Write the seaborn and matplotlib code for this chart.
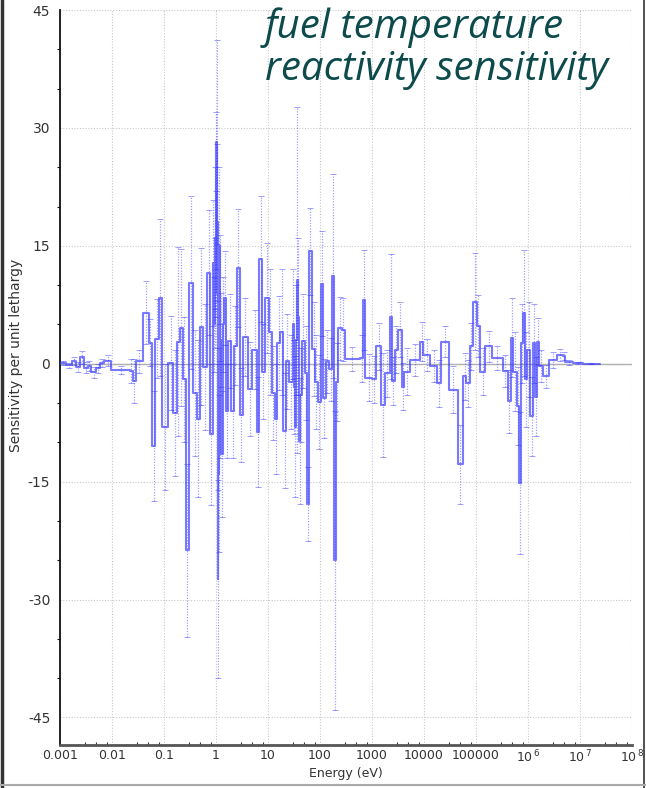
import numpy as np
import pandas as pd
import matplotlib
matplotlib.use("Agg")
import matplotlib.pyplot as plt
from matplotlib.ticker import FixedLocator, FixedFormatter, NullFormatter
import seaborn as sns

# ---------------- data ----------------
edges_ev = [0.001, 0.001304, 0.001702, 0.002031, 0.002424, 0.002894, 0.003455, 0.003946,
            0.004924, 0.005878, 0.007017, 0.009568, 0.02219, 0.02534, 0.02894, 0.03946,
            0.05145, 0.05878, 0.06714, 0.08014, 0.09151, 0.1194, 0.1490, 0.1778, 0.2031,
            0.2319, 0.2649, 0.3025, 0.3612, 0.4311, 0.4924, 0.5623, 0.6714, 0.7666, 0.8755,
            0.91, 0.94, 0.9568, 0.98, 1.0, 1.022, 1.05, 1.07, 1.093, 1.115, 1.142, 1.17,
            1.194, 1.22, 1.248, 1.363, 1.425, 1.557, 1.702, 1.943,
            2.219, 2.534, 2.894, 3.305, 4.125, 4.924, 6.144, 6.714, 7.666, 8.755, 10.45,
            11.94, 13.63, 14.90, 17.02, 19.43, 22.19, 25.34, 30.25, 31.5, 33.05, 34.5,
            36.12, 37.5, 39.46, 42.0,
            45.06, 51.45, 56.23, 61.44, 70.17, 80.14, 91.51, 104.5, 114.2, 130.4, 148.9,
            170.2, 185.8, 198.7, 221.9, 264.9, 302.5, 587.8, 671.4, 733.5, 1000, 1194,
            1490, 1778, 2219, 2424, 2769, 3162, 3775, 4125, 5378, 8377, 9568, 13050, 17780,
            21230, 30250, 45060, 56230, 64230, 76660, 87550, 104500, 119400, 149000, 203100,
            330500, 412500, 471000, 514500, 614400, 671400, 733500, 801400, 875500, 956800,
            1.093e6, 1.248e6, 1.363e6, 1.490e6, 1.628e6, 1.943e6, 2.534e6, 3.612e6, 4.710e6,
            5.145e6, 7.335e6, 1.142e7, 2.424e7]

sensitivity = [0.1, -0.2, 0.3, -0.4, 0.8, -0.5, -0.3, -1.1, -0.6, 0.1, 0.4, -0.8, -0.9, -2.2,
               0.3, 6.5, 2.7, -10.5, 3.2, 8.4, -8.0, 0.1, -6.3, 2.8, 4.6, -2.0, -23.7, 10.3,
               -3.7, -7.0, 4.7, -0.4, 11.6, -9.0,
               12.8, 5.0, 16.0, 9.0, 22.0, 14.0, 28.2, 18.0, -8.0, -27.4, -14.0, 15.0, -5.0,
               8.4, 3.0, -11.5,
               5.0, 8.4, -6.0, 2.9, -6.0, 2.3, 12.2, -6.5, 3.4, -3.2, 1.8, -8.7, 13.3, -1.0,
               8.4, 4.0, -3.7, -7.0, 2.6, 4.0, -8.5, 0.3, -2.3,
               5.0, -3.0, -8.0, 3.0, 10.7, 6.0, -9.8, -4.0,
               2.9, -1.2, -17.8, 14.3, 1.9, -2.3, -4.9, 10.2, -4.4, 0.3, -0.7, 11.2, -25.0, -2.3,
               4.5, 4.3, 0.6, 0.7, 8.1, -1.8, -2.0, 2.2, -5.2, -1.2, 6.0, -2.2, 1.8, 4.3,
               -2.9, -1.0, 0.5, 2.8, 1.1, -0.3, -2.5, 2.8, -3.3, -12.8, -1.6, -2.5, 2.2, 7.9,
               4.8, -1.0, 2.2, 0.7, -0.9, -4.8, 3.3, -1.0, -5.4, -15.2, 2.6, 6.5, -2.0, 1.8,
               -6.7, 2.6, -4.2, 2.8, -0.3, -1.6, 0.5, 1.1, 1.0, 0.2, 0.1, 0.03]

uncertainty = [0.3, 0.3, 0.5, 0.6, 0.8, 0.7, 0.6, 0.7, 0.6, 0.5, 0.7, 0.5, 1.5, 2.8,
               1.5, 4.0, 3.0, 7.0, 5.0, 10.0, 8.0, 6.0, 8.0, 12.0, 10.0, 8.0, 11.0, 11.0,
               8.0, 10.0, 10.0, 8.0, 8.0, 9.0,
               8.0, 6.0, 9.0, 7.0, 10.0, 8.0, 13.0, 10.0, 8.0, 12.6, 10.0, 10.0, 7.0,
               8.0, 6.0, 8.0,
               6.0, 6.0, 6.0, 6.0, 6.0, 5.0, 7.5, 6.0, 5.0, 6.0, 5.0, 7.0, 8.0, 6.0,
               7.0, 8.0, 6.0, 7.0, 6.0, 8.0, 7.3, 6.0, 6.0,
               7.0, 6.0, 9.0, 7.0, 22.0, 10.0, 8.0, 6.0,
               6.0, 6.0, 4.7, 5.5, 6.0, 6.0, 6.0, 6.7, 5.0, 4.0, 4.0, 13.0, 19.0, 5.0,
               4.0, 4.0, 1.5, 3.0, 6.4, 3.0, 3.0, 3.0, 6.6, 3.0, 7.9, 3.0, 3.0, 3.5,
               3.0, 3.0, 2.0, 2.5, 2.0, 2.0, 3.0, 2.0, 3.0, 5.0, 3.0, 3.0, 3.0, 6.2,
               4.0, 3.0, 2.0, 1.5, 2.0, 4.0, 5.0, 5.0, 5.0, 9.0, 5.0, 8.0, 6.0, 6.0,
               5.0, 5.0, 5.0, 3.0, 2.0, 1.5, 1.0, 0.8, 0.5, 0.3, 0.15, 0.05]

x_ticks = [1e-3, 1e-2, 1e-1, 1, 10, 100, 1000, 1e4, 1e5, 1e6, 1e7, 1e8]
x_ticklabels = ["0.001", "0.01", "0.1", "1", "10", "100", "1000", "10000", "100000",
                r"10$^{\,6}$", r"10$^{\,7}$", r"10$^{\,8}$"]
y_ticks = [-45, -30, -15, 0, 15, 30, 45]
y_ticklabels = ["-45", "-30", "-15", "0", "15", "30", "45"]

title_text = "fuel temperature\nreactivity sensitivity"

# ---------------- figure ----------------
sns.set_style("white")
plt.rcParams["axes.unicode_minus"] = False
plt.rcParams["font.family"] = ["DejaVu Sans"]

fig = plt.figure(figsize=(6.46, 7.88), dpi=100)
ax = fig.add_axes([60 / 646, 43 / 788, 572 / 646, 735 / 788])

edges = np.array(edges_ev)
vals = np.array(sensitivity)
errs = np.array(uncertainty)
centers = np.sqrt(edges[:-1] * edges[1:])

step_df = pd.DataFrame({"E": edges, "S": np.append(vals, vals[-1])})

ax.axhline(0, color="#b0b0b0", lw=1.0, zorder=1)

eb = ax.errorbar(centers, vals, yerr=errs, fmt="none", ecolor=(0.25, 0.25, 1.0, 0.5),
                 elinewidth=0.9, capsize=2.5, capthick=0.7, zorder=2)
for lc in eb.lines[2]:
    lc.set_linestyle((0, (1, 1.2)))

sns.lineplot(data=step_df, x="E", y="S", ax=ax, drawstyle="steps-post", estimator=None,
             sort=False, color=(0.2, 0.2, 1.0), alpha=0.65, lw=1.5, zorder=3)

ax.set_xscale("log")
ax.set_xlim(1e-3, 1e8)
ax.set_ylim(-48.5, 45)

ax.xaxis.set_major_locator(FixedLocator(x_ticks))
ax.xaxis.set_major_formatter(FixedFormatter(x_ticklabels))
minor = []
for d in range(-3, 8):
    for m in (3, 5, 8):
        minor.append(m * 10.0 ** d)
ax.xaxis.set_minor_locator(FixedLocator(minor))
ax.xaxis.set_minor_formatter(NullFormatter())
ax.yaxis.set_major_locator(FixedLocator(y_ticks))
ax.yaxis.set_major_formatter(FixedFormatter(y_ticklabels))
ax.yaxis.set_minor_locator(FixedLocator([v for v in range(-45, 46, 5) if v % 15 != 0]))

ax.grid(True, which="major", color="#c8c8c8", linestyle=(0, (1, 1.5)), lw=0.8)
ax.set_axisbelow(True)

for s in ("top", "right"):
    ax.spines[s].set_visible(False)
ax.spines["left"].set_color("#111111")
ax.spines["left"].set_linewidth(1.3)
ax.spines["bottom"].set_color("#555555")
ax.spines["bottom"].set_linewidth(2.0)

ax.tick_params(axis="y", which="major", direction="out", length=4, width=1.0,
               labelsize=10, labelcolor="#333333", color="#111111", pad=3)
ax.tick_params(axis="y", which="minor", direction="out", length=2.5, width=0.8, color="#111111", left=True)
ax.tick_params(axis="x", which="major", direction="in", length=5, width=1.0,
               labelsize=9, labelcolor="#333333", color="#333333", pad=3)
ax.tick_params(axis="x", which="minor", direction="in", length=2.5, width=0.8,
               color="#333333", bottom=True)

ax.set_xlabel("Energy (eV)", fontsize=9, color="#333333", labelpad=1)
ax.set_ylabel("Sensitivity per unit lethargy", fontsize=10, color="#333333")
ax.yaxis.set_label_coords(-0.064, 0.53)

fig.text(265 / 646, 1 - 7 / 788, title_text, ha="left", va="top", fontsize=29,
         style="italic", color="#0c4a4c", family=["Open Sans", "DejaVu Sans"],
         linespacing=1.05)

# screenshot frame lines
fig.add_artist(plt.Line2D([0.003, 0.003], [0, 1], transform=fig.transFigure, color="#333333", lw=2.5))
fig.add_artist(plt.Line2D([0.997, 0.997], [0, 1], transform=fig.transFigure, color="#333333", lw=1.2))
fig.add_artist(plt.Line2D([0, 1], [0.004, 0.004], transform=fig.transFigure, color="#aaaaaa", lw=1.5))

fig.savefig("out.png", dpi=100)
